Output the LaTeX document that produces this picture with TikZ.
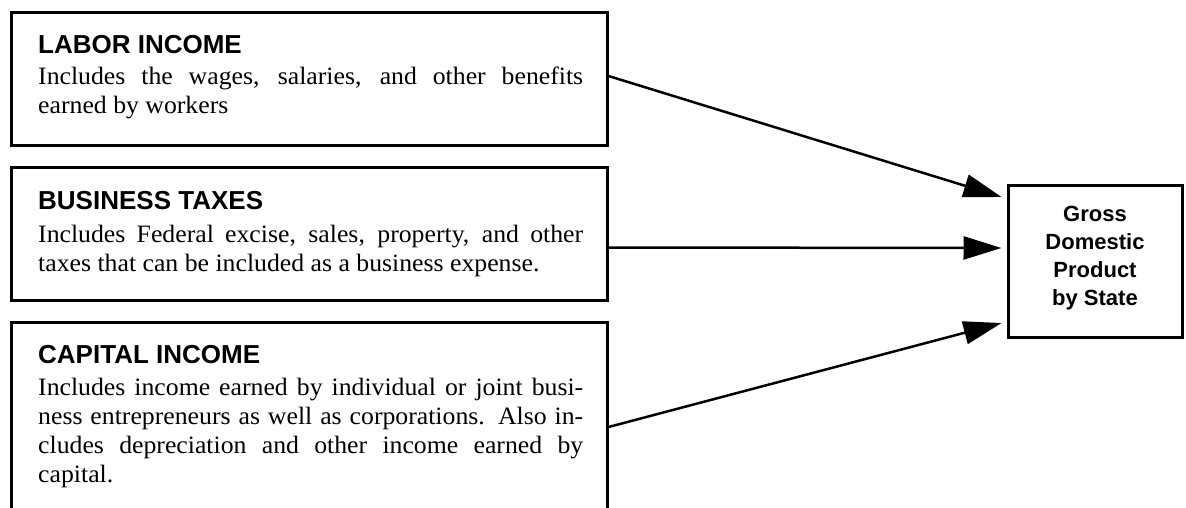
\documentclass[tikz,border=0pt]{standalone}
\usepackage{fontspec}
\setmainfont{Liberation Serif}[FakeStretch=1.03]
\newfontfamily\headfont{Liberation Sans}
\usetikzlibrary{arrows.meta,calc}
\begin{document}
\begin{tikzpicture}[x=1pt,y=-1pt,
  box/.style={draw=black,line width=3pt,rectangle,inner sep=0pt},
  head/.style={anchor=base west,inner sep=0pt,font=\headfont\bfseries\fontsize{26}{28}\selectfont},
  body/.style={anchor=base west,inner sep=0pt,font=\fontsize{25}{29}\selectfont},
  conn/.style={line width=2.5pt,-{Triangle[length=38pt,width=23pt]}}]
\useasboundingbox (0,0) rectangle (1186,507);
\clip (0,0) rectangle (1186,507);
% boxes
\node[box,minimum width=596pt,minimum height=133pt] (lab) at (309,78.5) {};
\node[box,minimum width=596pt,minimum height=133pt] (tax) at (309,233.5) {};
\node[box,minimum width=596pt,minimum height=260pt] (cap) at (309,452) {};
\node[box,minimum width=174pt,minimum height=152pt] (gdp) at (1095,261) {};
\node[align=center,inner sep=0pt,
  font=\headfont\bfseries\fontsize{22}{28}\selectfont] (gdptext) at (1095,258)
  {Gross\\Domestic\\Product\\by State};
% texts
\newcommand\jline[1]{\makebox[545pt][s]{#1}}
\node[head] (labh) at (38,53) {LABOR INCOME};
\node[body] (lab1) at (38,84) {\jline{Includes the wages, salaries, and other benefits}};
\node[body] (lab2) at (38,113) {earned by workers};
\node[head] (taxh) at (38,209) {BUSINESS TAXES};
\node[body] (tax1) at (38,242) {\jline{Includes Federal excise, sales, property, and other}};
\node[body] (tax2) at (38,271) {taxes that can be included as a business expense.};
\node[head] (caph) at (38,363) {CAPITAL INCOME};
\node[body] (cap1) at (38,395) {\jline{Includes income earned by individual or joint busi-}};
\node[body] (cap2) at (38,424) {\jline{ness entrepreneurs as well as corporations. Also in-}};
\node[body] (cap3) at (38,453) {\jline{cludes depreciation and other income earned by}};
\node[body] (cap4) at (38,482) {capital.};
% connectors
\coordinate (t1) at ($(gdp.west)+(-5,-64)$);
\coordinate (t2) at ($(gdp.west)+(-5,-13)$);
\coordinate (t3) at ($(gdp.west)+(-5,62)$);
\draw[conn] ($(lab.east)+(0,-2.5)$) -- (t1);
\draw[conn] ($(tax.east)+(0,14)$) -- (t2);
\draw[conn] ($(cap.east)+(0,-25)$) -- (t3);
\end{tikzpicture}
\end{document}
